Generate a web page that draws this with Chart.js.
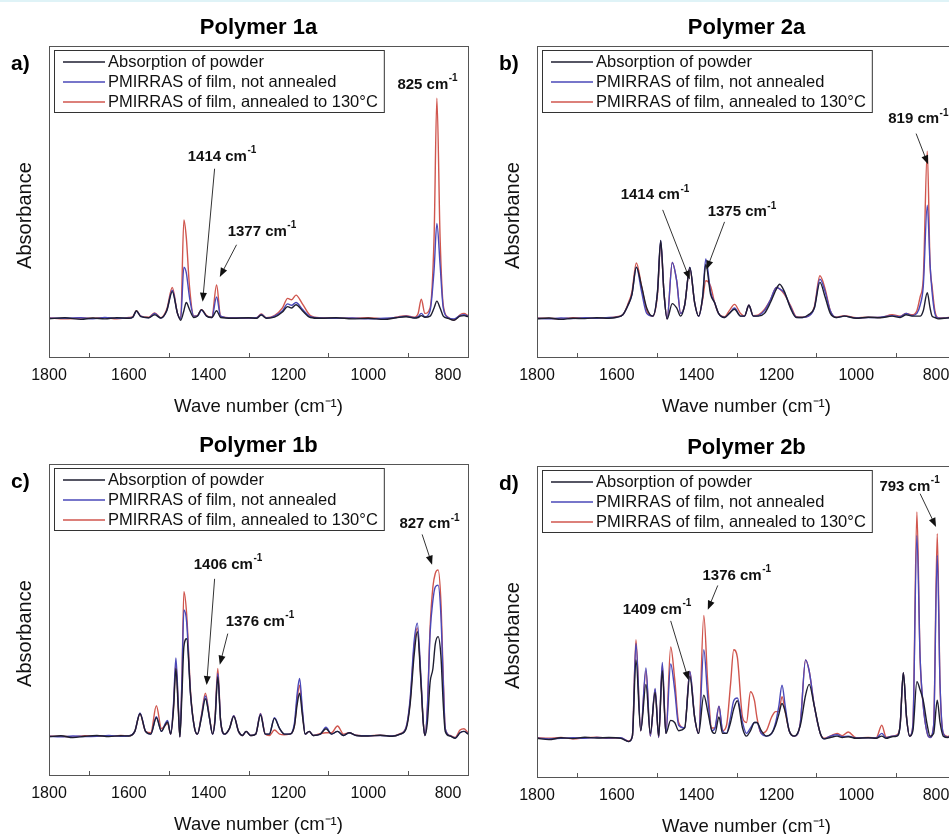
<!DOCTYPE html>
<html>
<head>
<meta charset="utf-8">
<script src="https://cdn.jsdelivr.net/npm/chart.js@4.4.0/dist/chart.umd.min.js"></script>
<style>
  html, body { margin: 0; padding: 0; background: #fff; width: 949px; height: 834px; overflow: hidden; }
  body { border-top: 2px solid #dff3f7; box-sizing: border-box; position: relative; }
  canvas { position: absolute; }
</style>
</head>
<body>
<canvas id="chartA" width="475" height="420" style="left:0;top:0"></canvas>
<canvas id="chartB" width="475" height="420" style="left:488px;top:0"></canvas>
<canvas id="chartC" width="475" height="420" style="left:0;top:418px"></canvas>
<canvas id="chartD" width="475" height="420" style="left:488px;top:420px"></canvas>
<script>
// series names + x axis ticks
const seriesNames = ['Absorption of powder', 'PMIRRAS of film, not annealed', 'PMIRRAS of film, annealed to 130°C'];
const tickValues = [1800, 1700, 1600, 1500, 1400, 1300, 1200, 1100, 1000, 900, 800];
const tickLabels = [1800, 1600, 1400, 1200, 1000, 800];

// Polymer 1a
const wnA = [1800,1760,1720,1690,1660,1630,1600,1590,1581,1570,
  1550,1535,1520,1505,1491,1478,1470,1462,1456,1448,
  1437,1428,1418,1405,1392,1380,1370,1340,1300,1280,
  1268,1255,1235,1215,1202,1192,1181,1165,1145,1120,
  1080,1040,1000,960,930,905,885,875,867,858,
  845,835,828,820,812,800,785,770,760,750];
const powderA = [0,0.004,-0.002,0.003,0,0.004,0.002,0.006,0.03,0.008,
  0.004,0.015,0.003,0.03,0.1,0.02,-0.005,0.03,0.06,0.035,
  0.005,0.01,0.034,0.01,0.005,0.03,0.005,0.002,0.004,0.002,
  0.014,0.002,0.006,0.025,0.045,0.04,0.052,0.03,0.005,0.002,
  0.004,0,0.002,-0.002,0.004,0.008,0.003,0.005,0.012,0.006,
  0.01,0.04,0.065,0.04,0.01,0.002,-0.005,0.01,0.012,0.008];
const filmA = [0.002,0.002,0.004,0,0.005,0.002,0.003,0.006,0.028,0.01,
  0.004,0.02,0.003,0.03,0.105,0.02,0,0.19,0.17,0.08,
  0.01,0.01,0.032,0.01,0.005,0.08,0.01,0.003,0.003,0.004,
  0.016,0.003,0.01,0.03,0.055,0.05,0.06,0.035,0.008,0.003,
  0.002,0.003,0,0.002,0.005,0.01,0.004,0.008,0.02,0.008,
  0.03,0.18,0.35,0.2,0.04,0.005,0,0.012,0.015,0.01];
const annealA = [0.004,0,0.003,0.002,0.004,0,0.005,0.008,0.03,0.01,
  0.006,0.022,0.004,0.035,0.115,0.02,0,0.363,0.3,0.12,
  0.01,0.012,0.034,0.012,0.006,0.124,0.01,0.004,0.002,0.004,
  0.018,0.004,0.012,0.04,0.075,0.07,0.087,0.055,0.012,0.004,
  0.003,0.002,0.004,0,0.006,0.012,0.006,0.02,0.072,0.02,
  0.04,0.3,0.81,0.3,0.05,0.006,-0.004,0.015,0.02,0.012];

// Polymer 2a
const wnB = [1800,1770,1740,1710,1680,1650,1620,1600,1585,1572,
  1562,1551,1538,1525,1510,1498,1490,1482,1474,1461,
  1450,1440,1430,1417,1405,1395,1385,1377,1365,1355,
  1345,1330,1318,1305,1290,1280,1269,1258,1245,1230,
  1215,1200,1192,1180,1165,1150,1135,1120,1105,1091,
  1078,1065,1050,1030,1000,970,940,910,890,875,
  860,848,840,832,822,815,810,803,795,780,
  765,750];
const powderB = [0,0.003,-0.002,0.002,0.001,0.004,0.002,0.006,0.015,0.05,
  0.09,0.19,0.12,0.04,0.01,0.1,0.288,0.1,0,0.056,
  0.04,0.01,0.05,0.189,0.06,0.01,0.08,0.2,0.09,0.06,
  0.02,0.005,0.02,0.035,0.01,0.01,0.05,0.01,0.01,0.02,
  0.06,0.11,0.127,0.1,0.04,0.005,0.005,0.015,0.04,0.134,
  0.08,0.02,0.005,0.01,0.002,0.006,0.004,0.01,0.005,0.015,
  0.01,0.01,0.01,0.03,0.096,0.04,0.01,0.005,0,0.002,
  0.004,0.002];
const filmB = [0.002,0,0.003,0.001,0.004,0.002,0.005,0.006,0.015,0.05,
  0.09,0.19,0.1,0.02,0.01,0.1,0.288,0.1,0,0.207,
  0.14,0.02,0.05,0.189,0.06,0.01,0.08,0.22,0.1,0.06,
  0.02,0.005,0.02,0.04,0.01,0.01,0.05,0.01,0.012,0.03,
  0.07,0.115,0.11,0.095,0.045,0.006,0.005,0.01,0.04,0.146,
  0.1,0.03,0.005,0.01,0.003,0.005,0.006,0.012,0.008,0.02,
  0.012,0.02,0.05,0.12,0.417,0.2,0.1,0.02,0.003,0.002,
  0.005,0.003];
const annealB = [0.003,0.002,0,0.004,0.002,0.003,0.004,0.008,0.015,0.055,
  0.1,0.205,0.12,0.03,0.01,0.09,0.28,0.1,0,0.207,
  0.14,0.02,0.05,0.185,0.06,0.01,0.07,0.14,0.12,0.06,
  0.02,0.008,0.03,0.053,0.02,0.01,0.05,0.012,0.015,0.035,
  0.07,0.115,0.11,0.09,0.05,0.008,0.006,0.01,0.045,0.158,
  0.11,0.03,0.006,0.012,0.004,0.006,0.005,0.015,0.01,0.02,
  0.015,0.03,0.08,0.15,0.615,0.2,0.12,0.03,0.004,0.003,
  0.006,0.004];

// Polymer 1b
const wnC = [1800,1770,1740,1710,1680,1650,1620,1600,1585,1572,
  1558,1545,1531,1518,1510,1503,1495,1488,1482,1476,
  1472,1467,1462,1455,1445,1435,1428,1418,1408,1398,
  1390,1384,1377,1370,1360,1348,1337,1325,1315,1306,
  1295,1282,1270,1258,1248,1235,1222,1210,1198,1185,
  1178,1172,1165,1158,1148,1138,1120,1106,1092,1077,
  1062,1048,1030,1000,970,940,920,905,895,885,
  877,868,862,858,852,845,838,832,825,818,
  812,807,795,782,770,760,750];
const powderC = [0,0.004,-0.003,0.002,0.005,0.001,0.004,0.003,0.02,0.085,
  0.02,0.01,0.07,0.02,0.04,0.055,0.01,0.1,0.25,0.1,
  0,0.15,0.33,0.36,0.15,0.03,0.01,0.07,0.14,0.07,
  0.01,0.06,0.22,0.06,0.01,0.03,0.075,0.02,0.005,0.02,
  0.005,0.01,0.08,0.01,0.01,0.068,0.03,0.01,0.01,0.04,
  0.12,0.16,0.08,0.01,0.02,0.005,0.01,0.03,0.01,0.02,
  0.005,0.015,0.005,0.003,0.006,0.002,0.01,0.03,0.12,0.3,
  0.386,0.2,0.05,0.005,0.05,0.2,0.25,0.34,0.368,0.3,
  0.12,0.02,0.003,-0.005,0.015,0.02,0.01];
const filmC = [0.002,0,0.003,0.001,0.002,0.005,0.002,0.004,0.02,0.088,
  0.02,0.01,0.074,0.02,0.045,0.06,0.01,0.12,0.29,0.12,
  0,0.2,0.466,0.42,0.15,0.03,0.01,0.075,0.15,0.07,
  0.01,0.06,0.233,0.06,0.01,0.03,0.078,0.02,0.005,0.02,
  0.005,0.01,0.085,0.01,0.01,0.07,0.03,0.01,0.01,0.05,
  0.16,0.214,0.1,0.01,0.02,0.005,0.01,0.035,0.01,0.02,
  0.005,0.015,0.005,0.004,0.005,0.003,0.01,0.035,0.14,0.35,
  0.417,0.22,0.05,0.005,0.1,0.38,0.5,0.55,0.557,0.45,
  0.2,0.03,0.004,-0.004,0.015,0.02,0.012];
const annealC = [0.003,0.002,0,0.004,0.003,0.002,0.005,0.004,0.02,0.085,
  0.02,0.015,0.114,0.03,0.04,0.05,0.01,0.11,0.27,0.11,
  0,0.2,0.533,0.45,0.16,0.03,0.01,0.08,0.16,0.075,
  0.01,0.07,0.251,0.06,0.01,0.03,0.078,0.02,0.005,0.02,
  0.005,0.01,0.086,0.01,0.005,0.025,0.01,0.008,0.01,0.04,
  0.14,0.19,0.09,0.01,0.02,0.005,0.012,0.015,0.015,0.04,
  0.01,0.015,0.006,0.004,0.006,0.003,0.012,0.035,0.13,0.33,
  0.4,0.21,0.05,0.005,0.1,0.4,0.55,0.6,0.613,0.5,
  0.22,0.03,0.005,-0.002,0.025,0.03,0.015];

// Polymer 2b
const wnD = [1800,1770,1740,1710,1680,1650,1620,1590,1570,1561,
  1552,1540,1527,1516,1504,1495,1486,1477,1465,1455,
  1445,1430,1417,1405,1395,1382,1372,1362,1354,1344,
  1335,1325,1315,1307,1298,1285,1275,1265,1255,1249,
  1238,1225,1212,1202,1194,1186,1178,1168,1155,1140,
  1127,1118,1105,1090,1080,1065,1048,1035,1020,1000,
  970,950,936,925,910,898,890,882,874,866,
  858,848,840,832,822,815,806,797,790,782,
  770,760,750];
const powderD = [0.002,-0.003,0.004,0.001,0.006,0.003,0.005,0.002,-0.01,0.01,
  0.29,0.03,0.2,0.02,0.17,0.01,0.25,0.02,0.068,0.06,
  0.03,0.04,0.23,0.08,0.02,0.16,0.1,0.03,0.02,0.08,
  0.02,0.02,0.06,0.11,0.14,0.04,0.01,0.03,0.06,0.06,
  0.03,0.01,0.02,0.05,0.09,0.13,0.1,0.03,0.01,0.05,
  0.16,0.2,0.12,0.02,0,0.005,0.01,0.005,0.008,0.002,
  0.004,0.002,0.01,0.002,0.008,0.01,0.05,0.243,0.08,0.01,
  0.03,0.21,0.18,0.14,0.05,0.01,0.02,0.142,0.06,0.01,
  0.005,0.015,0.01];
const filmD = [0.003,0,0.002,0.004,0.002,0.005,0.003,0.004,-0.01,0.01,
  0.35,0.03,0.26,0.01,0.185,0.005,0.28,0.02,0.275,0.18,
  0.05,0.04,0.247,0.08,0.02,0.327,0.15,0.03,0.04,0.12,
  0.03,0.02,0.08,0.14,0.15,0.06,0.02,0.04,0.06,0.06,
  0.02,0.01,0.02,0.06,0.12,0.197,0.12,0.03,0.01,0.06,
  0.29,0.25,0.12,0.02,0,0.01,0.015,0.008,0.01,0.003,
  0.004,0.003,0.02,0.004,0.01,0.012,0.05,0.243,0.08,0.01,
  0.05,0.747,0.3,0.12,0.02,0.005,0.05,0.673,0.2,0.02,
  0.006,0.018,0.01];
const annealD = [0.004,0.002,0.005,0,0.004,0.006,0.002,0.003,-0.008,0.01,
  0.364,0.03,0.25,0.01,0.18,0.005,0.27,0.02,0.337,0.22,
  0.06,0.04,0.247,0.08,0.02,0.453,0.2,0.04,0.04,0.12,
  0.03,0.05,0.2,0.327,0.3,0.08,0.06,0.173,0.14,0.08,
  0.02,0.03,0.08,0.1,0.1,0.155,0.1,0.03,0.01,0.06,
  0.29,0.25,0.12,0.02,0.002,0.01,0.02,0.012,0.025,0.004,
  0.005,0.004,0.05,0.006,0.01,0.015,0.05,0.243,0.08,0.01,
  0.05,0.833,0.3,0.12,0.02,0.005,0.05,0.753,0.2,0.02,
  0.008,0.02,0.012];

// peak labels, placed in data units (wave number, absorbance)
const notesA = [
  { label: '825', at: [852, 0.86] },
  { label: '1414', at: [1367, 0.596], from: [1385, 0.551], to: [1415, 0.063] },
  { label: '1377', at: [1267, 0.32], from: [1330, 0.272], to: [1372, 0.154] }
];
const notesB = [
  { label: '819', at: [845, 0.733], from: [850, 0.68], to: [820, 0.567] },
  { label: '1414', at: [1505, 0.455], from: [1485, 0.4], to: [1417, 0.144] },
  { label: '1375', at: [1287, 0.393], from: [1330, 0.356], to: [1375, 0.181] }
];
const notesC = [
  { label: '827', at: [847, 0.78], from: [865, 0.743], to: [840, 0.632] },
  { label: '1406', at: [1352, 0.632], from: [1385, 0.58], to: [1405, 0.19] },
  { label: '1376', at: [1272, 0.423], from: [1352, 0.379], to: [1372, 0.265] }
];
const notesD = [
  { label: '793', at: [867, 0.926], from: [840, 0.9], to: [800, 0.778] },
  { label: '1409', at: [1500, 0.474], from: [1465, 0.433], to: [1420, 0.215] },
  { label: '1376', at: [1300, 0.6], from: [1347, 0.563], to: [1372, 0.474] }
];

const lineColors = ['#1e1e30', '#4a48b8', '#d0564e'];
const FONT = '"Liberation Sans", Arial, Helvetica, sans-serif';
Chart.defaults.font.family = FONT;

const panels = [
  { id: 'chartA', title: 'Polymer 1a', tag: 'a)', wn: wnA, series: [powderA, filmA, annealA], notes: notesA },
  { id: 'chartB', title: 'Polymer 2a', tag: 'b)', wn: wnB, series: [powderB, filmB, annealB], notes: notesB },
  { id: 'chartC', title: 'Polymer 1b', tag: 'c)', wn: wnC, series: [powderC, filmC, annealC], notes: notesC },
  { id: 'chartD', title: 'Polymer 2b', tag: 'd)', wn: wnD, series: [powderD, filmD, annealD], notes: notesD }
];

function drawArrow(ctx, x1, y1, x2, y2) {
  const ang = Math.atan2(y2 - y1, x2 - x1);
  ctx.beginPath();
  ctx.moveTo(x1, y1);
  ctx.lineTo(x2 - 6 * Math.cos(ang), y2 - 6 * Math.sin(ang));
  ctx.stroke();
  ctx.beginPath();
  ctx.moveTo(x2, y2);
  ctx.lineTo(x2 - 9 * Math.cos(ang) + 3.5 * Math.sin(ang), y2 - 9 * Math.sin(ang) - 3.5 * Math.cos(ang));
  ctx.lineTo(x2 - 9 * Math.cos(ang) - 3.5 * Math.sin(ang), y2 - 9 * Math.sin(ang) + 3.5 * Math.cos(ang));
  ctx.closePath();
  ctx.fill();
}

// frame, inward minor ticks, boxed legend, peak labels and panel letter
const framePlugin = {
  id: 'frame',
  afterDatasetsDraw(chart, args, opts) {
    const { ctx, chartArea: ca, scales: { x, y } } = chart;
    ctx.save();
    ctx.strokeStyle = '#555';
    ctx.lineWidth = 1;
    ctx.strokeRect(Math.round(ca.left) + 0.5, Math.round(ca.top) + 0.5, Math.round(ca.width), Math.round(ca.height));
    x.ticks.forEach(t => {
      if (tickLabels.includes(t.value)) return;
      const px = Math.round(x.getPixelForValue(t.value)) + 0.5;
      ctx.beginPath();
      ctx.moveTo(px, ca.bottom);
      ctx.lineTo(px, ca.bottom - 4);
      ctx.stroke();
    });

    // legend box
    ctx.font = '16.5px ' + FONT;
    const lx = Math.round(ca.left) + 5, ly = Math.round(ca.top) + 4;
    const textW = Math.max(...chart.data.datasets.map(d => ctx.measureText(d.label).width));
    const boxW = 54 + textW + 6, boxH = 62;
    ctx.fillStyle = '#fff';
    ctx.fillRect(lx, ly, boxW, boxH);
    ctx.strokeStyle = '#333';
    ctx.strokeRect(lx + 0.5, ly + 0.5, boxW, boxH);
    ctx.textBaseline = 'middle';
    ctx.textAlign = 'left';
    chart.data.datasets.forEach((d, i) => {
      const ry = ly + 12 + i * 20;
      ctx.strokeStyle = d.borderColor;
      ctx.lineWidth = 1.3;
      ctx.beginPath();
      ctx.moveTo(lx + 9, ry);
      ctx.lineTo(lx + 51, ry);
      ctx.stroke();
      ctx.fillStyle = '#111';
      ctx.fillText(d.label, lx + 54, ry);
    });

    // peak labels
    opts.notes.forEach(n => {
      ctx.fillStyle = '#111';
      ctx.strokeStyle = '#333';
      ctx.lineWidth = 1;
      const main = n.label + ' cm';
      ctx.font = 'bold 15px ' + FONT;
      const w1 = ctx.measureText(main).width;
      ctx.font = 'bold 10px ' + FONT;
      const w2 = ctx.measureText('-1').width;
      const cx = x.getPixelForValue(n.at[0]), cy = y.getPixelForValue(n.at[1]);
      const sx = cx - (w1 + w2) / 2;
      ctx.font = 'bold 15px ' + FONT;
      ctx.fillText(main, sx, cy);
      ctx.font = 'bold 10px ' + FONT;
      ctx.fillText('-1', sx + w1 + 0.5, cy - 6);
      if (n.from) {
        drawArrow(ctx, x.getPixelForValue(n.from[0]), y.getPixelForValue(n.from[1]),
          x.getPixelForValue(n.to[0]), y.getPixelForValue(n.to[1]));
      }
    });

    // panel letter
    ctx.fillStyle = '#000';
    ctx.font = 'bold 21px ' + FONT;
    ctx.textBaseline = 'alphabetic';
    ctx.fillText(opts.tag, 11, 68);
    ctx.restore();
  }
};

panels.forEach(p => {
  new Chart(document.getElementById(p.id), {
    type: 'line',
    data: {
      datasets: seriesNames.map((name, i) => ({
        label: name,
        data: p.wn.map((w, k) => ({ x: w, y: p.series[i][k] })),
        borderColor: lineColors[i],
        borderWidth: 1.4,
        pointRadius: 0,
        cubicInterpolationMode: 'monotone',
        fill: false
      }))
    },
    options: {
      responsive: false,
      animation: false,
      events: [],
      layout: { padding: { left: 0, right: 7, top: 0, bottom: 0 } },
      plugins: {
        legend: { display: false },
        tooltip: { enabled: false },
        title: {
          display: true, text: p.title, fullSize: false, color: '#000',
          font: { size: 22, weight: 'bold' }, padding: { top: 13, bottom: 5 }
        },
        frame: { tag: p.tag, notes: p.notes }
      },
      scales: {
        x: {
          type: 'linear', reverse: true, min: 750, max: 1800,
          afterBuildTicks: s => { s.ticks = tickValues.map(v => ({ value: v })); },
          afterFit: s => { s.height = 65; },
          grid: { display: false },
          border: { display: false },
          ticks: {
            autoSkip: false, maxRotation: 0, padding: 1,
            color: '#111', font: { size: 16 },
            callback: v => tickLabels.includes(v) ? String(v) : ''
          },
          title: {
            display: true, text: 'Wave number (cm⁻¹)', color: '#111',
            font: { size: 18.5 }, padding: { top: 0, bottom: 4 }
          }
        },
        y: {
          min: -0.14, max: 1,
          afterFit: s => { s.width = 49; },
          grid: { display: false },
          border: { display: false },
          ticks: { display: false },
          title: {
            display: true, text: 'Absorbance\u00a0\u00a0\u00a0\u00a0\u00a0', color: '#111',
            font: { size: 20 }, padding: { top: 13, bottom: 0 }
          }
        }
      }
    },
    plugins: [framePlugin]
  });
});
</script>
</body>
</html>
